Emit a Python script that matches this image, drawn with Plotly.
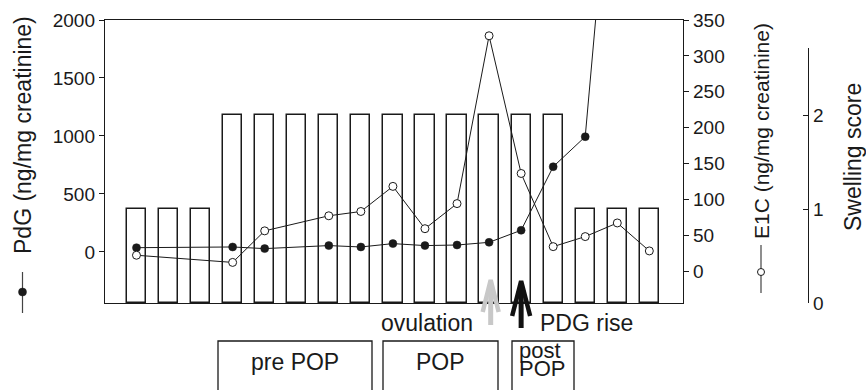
import plotly.graph_objects as go

W, H = 866, 390

# ---------------- data ----------------
days = list(range(17))
swelling = [1, 1, 1, 2, 2, 2, 2, 2, 2, 2, 2, 2, 2, 2, 1, 1, 1]

pdg_days = [0, 3, 4, 6, 7, 8, 9, 10, 11, 12, 13, 14, 15]
pdg_vals = [37, 43, 29, 55, 43, 72, 55, 60, 83, 187, 735, 994, 4100]

e1c_days = [0, 3, 4, 6, 7, 8, 9, 10, 11, 12, 13, 14, 15, 16]
e1c_vals = [22, 12, 56, 77, 83, 118, 59, 94, 328, 136, 34, 48, 67, 28]

pdg_ticks = [0, 500, 1000, 1500, 2000]
e1c_ticks = [0, 50, 100, 150, 200, 250, 300, 350]
swell_ticks = [0, 1, 2]

ovulation_day = 11
pdg_rise_day = 12

# ---------------- helpers ----------------
def px(x):
    return x / W

def py(y):
    return 1 - y / H

FONT = "Arial, Liberation Sans, Helvetica, sans-serif"
INK = "#1a1a1a"

fig = go.Figure()

fig.add_trace(go.Bar(
    x=days, y=swelling, xaxis="x", yaxis="y3", width=0.6,
    marker=dict(color="rgba(0,0,0,0)", line=dict(color=INK, width=1.5)),
    hoverinfo="skip", showlegend=False))

fig.add_trace(go.Scatter(
    x=pdg_days, y=pdg_vals, xaxis="x", yaxis="y", mode="lines+markers",
    line=dict(color=INK, width=1),
    marker=dict(size=8, color=INK, line=dict(color=INK, width=0.5)),
    showlegend=False))

fig.add_trace(go.Scatter(
    x=e1c_days, y=e1c_vals, xaxis="x", yaxis="y2", mode="lines+markers",
    line=dict(color=INK, width=1),
    marker=dict(size=8, color="white", line=dict(color=INK, width=1)),
    showlegend=False))

xd = [px(105), px(683)]
yd = [py(303), py(20)]

axis_common = dict(showgrid=False, zeroline=False, showline=True, linecolor=INK,
                   linewidth=1.4, tickcolor=INK, tickwidth=1.2, ticklen=5,
                   automargin=False,
                   tickfont=dict(family=FONT, size=19, color=INK))

fig.update_layout(
    template="none",
    width=W, height=H, autosize=False,
    margin=dict(l=0, r=0, t=0, b=0, pad=0),
    paper_bgcolor="white", plot_bgcolor="rgba(0,0,0,0)",
    showlegend=False, bargap=0,
    xaxis=dict(domain=xd, range=[-0.982, 17.05], showgrid=False, zeroline=False,
               showline=True, mirror=True, linecolor=INK, linewidth=1.4,
               showticklabels=False, ticks="", anchor="y", automargin=False),
    yaxis=dict(domain=yd, range=[-440, 2000], tickvals=pdg_ticks, ticks="outside",
               anchor="x", **axis_common),
    yaxis2=dict(overlaying="y", side="right", anchor="x", range=[-44.6, 350],
                tickvals=e1c_ticks, ticks="outside", **axis_common),
    yaxis3=dict(domain=[py(303), py(48)], anchor="free", position=px(808), side="right",
                range=[0, 2.713], tickvals=swell_ticks, ticks="inside", **axis_common),
)

shapes = []
ann = []

def text(x, y, s, size=23, angle=0, xanchor="center"):
    ann.append(dict(x=px(x), y=py(y), xref="paper", yref="paper", text=s,
                    textangle=angle, showarrow=False,
                    font=dict(family=FONT, size=size, color=INK),
                    xanchor=xanchor, yanchor="middle", borderpad=0))

# axis titles
text(23, 135, "PdG (ng/mg creatinine)", 23, -90)
text(762, 131, "E1C (ng/mg creatinine)", 21, -90)
text(853, 157, "Swelling score", 23, -90)

# legend icons next to titles
shapes.append(dict(type="line", xref="paper", yref="paper", x0=px(22.5), x1=px(22.5),
                   y0=py(272), y1=py(313), line=dict(color="#444", width=1.2)))
shapes.append(dict(type="circle", xref="paper", yref="paper", x0=px(18.5), x1=px(26.5),
                   y0=py(296), y1=py(288), fillcolor=INK, line=dict(color=INK, width=0.5)))
shapes.append(dict(type="line", xref="paper", yref="paper", x0=px(761), x1=px(761),
                   y0=py(245), y1=py(293), line=dict(color="#444", width=1.2)))
shapes.append(dict(type="circle", xref="paper", yref="paper", x0=px(757.5), x1=px(764.5),
                   y0=py(275.5), y1=py(268.5), fillcolor="white", line=dict(color=INK, width=1)))

# arrows
def arrow(xday, tip, bottom, wing_y, half_w, color):
    hw = half_w / 32.06
    shapes.append(dict(type="line", xref="x", yref="paper", x0=xday, x1=xday,
                       y0=py(bottom), y1=py(tip + 4), line=dict(color=color, width=5)))
    path = f"M {xday - hw},{py(wing_y)} L {xday},{py(tip)} L {xday + hw},{py(wing_y)}"
    shapes.append(dict(type="path", xref="x", yref="paper", path=path,
                       line=dict(color=color, width=4.5)))

arrow(ovulation_day + 0.05, 280, 325, 312, 8, "#c8c8c8")
arrow(pdg_rise_day, 281, 328, 316, 9, "#111111")

text(474, 323, "ovulation", 23, 0, "right")
text(539, 323, "PDG rise", 23, 0, "left")

# phase boxes
for x0, x1 in [(218, 372), (383, 498), (512, 574)]:
    shapes.append(dict(type="rect", xref="paper", yref="paper", x0=px(x0), x1=px(x1),
                       y0=py(341), y1=py(400), line=dict(color=INK, width=1.3)))
text(295, 362, "pre POP")
text(440, 362, "POP")
text(540, 350, "post", 22)
text(542, 368, "POP", 22)

fig.update_layout(shapes=shapes, annotations=ann)

fig.write_html("out.html")
